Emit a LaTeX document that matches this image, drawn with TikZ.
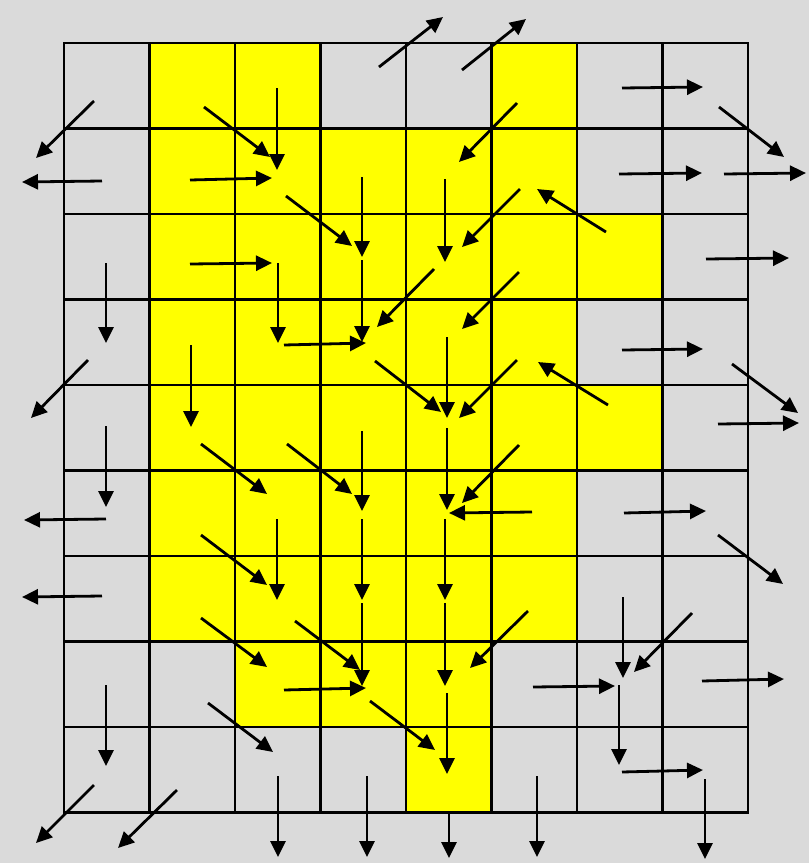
\documentclass[tikz,border=0pt]{standalone}
\usetikzlibrary{arrows.meta}
\definecolor{bggrey}{RGB}{218,218,218}
\definecolor{cellyellow}{RGB}{255,255,0}
\begin{document}
\begin{tikzpicture}[x=1pt,y=-1pt,
  flow/.style={line width=2.8pt,-{Triangle[length=16pt,width=15pt]}},
  gridline/.style={line width=2.8pt,line cap=rect}]
\fill[bggrey] (0,0) rectangle (809,863);
\useasboundingbox (0,0) rectangle (809,863);
\def\sz{85.5}
% yellow cells: row/col
\foreach \r/\c in {0/1,0/2,0/5,
  1/1,1/2,1/3,1/4,1/5,
  2/1,2/2,2/3,2/4,2/5,2/6,
  3/1,3/2,3/3,3/4,3/5,
  4/1,4/2,4/3,4/4,4/5,4/6,
  5/1,5/2,5/3,5/4,5/5,
  6/1,6/2,6/3,6/4,6/5,
  7/2,7/3,7/4,
  8/4}
  \fill[cellyellow] ({64+\c*\sz},{43+\r*\sz}) rectangle ({64+(\c+1)*\sz},{43+(\r+1)*\sz});
% grid
\foreach \i in {0,...,8}
  \draw[gridline] ({64+\i*\sz},43) -- ({64+\i*\sz},{43+9*\sz});
\foreach \j in {0,...,9}
  \draw[gridline] (64,{43+\j*\sz}) -- ({64+8*\sz},{43+\j*\sz});
% row 0
\draw[flow] (94,101) -- (36,158);
\draw[flow] (204,107) -- (270,157);
\draw[flow] (277,88) -- (277,170);
\draw[flow] (379,67) -- (443,17);
\draw[flow] (462,70) -- (526,19);
\draw[flow] (517,103) -- (459,162);
\draw[flow] (622,88) -- (703,87);
\draw[flow] (719,107) -- (784,157);
% row 1
\draw[flow] (102,181) -- (22,182);
\draw[flow] (190,180) -- (272,178);
\draw[flow] (286,196) -- (352,246);
\draw[flow] (362,177) -- (362,257);
\draw[flow] (445,179) -- (445,262);
\draw[flow] (520,189) -- (462,247);
\draw[flow] (619,174) -- (702,173);
\draw[flow] (724,174) -- (806,173);
% row 2
\draw[flow] (106,263) -- (106,343);
\draw[flow] (190,264) -- (272,263);
\draw[flow] (278,263) -- (278,343);
\draw[flow] (362,260) -- (362,342);
\draw[flow] (434,269) -- (377,327);
\draw[flow] (519,272) -- (462,329);
\draw[flow] (606,232) -- (537,189);
\draw[flow] (706,259) -- (789,258);
% row 3
\draw[flow] (88,360) -- (31,418);
\draw[flow] (191,345) -- (191,427);
\draw[flow] (284,345) -- (366,343);
\draw[flow] (375,361) -- (441,412);
\draw[flow] (447,337) -- (447,418);
\draw[flow] (517,360) -- (459,418);
\draw[flow] (622,350) -- (703,349);
\draw[flow] (732,364) -- (798,413);
% row 4
\draw[flow] (106,426) -- (106,507);
\draw[flow] (201,444) -- (267,494);
\draw[flow] (287,444) -- (352,494);
\draw[flow] (362,431) -- (362,511);
\draw[flow] (447,428) -- (447,510);
\draw[flow] (519,445) -- (462,503);
\draw[flow] (608,405) -- (538,362);
\draw[flow] (718,424) -- (799,423);
% row 5
\draw[flow] (106,519) -- (24,520);
\draw[flow] (201,535) -- (267,585);
\draw[flow] (277,519) -- (277,600);
\draw[flow] (362,519) -- (362,600);
\draw[flow] (445,519) -- (445,600);
\draw[flow] (532,512) -- (449,513);
\draw[flow] (624,513) -- (706,511);
\draw[flow] (718,535) -- (783,584);
% row 6
\draw[flow] (102,596) -- (22,597);
\draw[flow] (201,618) -- (267,667);
\draw[flow] (295,621) -- (360,670);
\draw[flow] (362,603) -- (362,686);
\draw[flow] (445,603) -- (445,686);
\draw[flow] (528,611) -- (470,668);
\draw[flow] (623,597) -- (623,678);
\draw[flow] (692,613) -- (634,672);
% row 7
\draw[flow] (106,685) -- (106,766);
\draw[flow] (208,703) -- (273,752);
\draw[flow] (284,690) -- (366,688);
\draw[flow] (370,701) -- (435,750);
\draw[flow] (447,693) -- (447,774);
\draw[flow] (533,687) -- (615,686);
\draw[flow] (619,685) -- (619,765);
\draw[flow] (702,681) -- (784,679);
% row 8
\draw[flow] (94,785) -- (36,843);
\draw[flow] (177,790) -- (118,848);
\draw[flow] (278,776) -- (278,857);
\draw[flow] (367,776) -- (367,857);
\draw[flow] (449,813) -- (449,858);
\draw[flow] (537,776) -- (537,857);
\draw[flow] (622,772) -- (703,770);
\draw[flow] (705,779) -- (705,859);
\end{tikzpicture}
\end{document}
